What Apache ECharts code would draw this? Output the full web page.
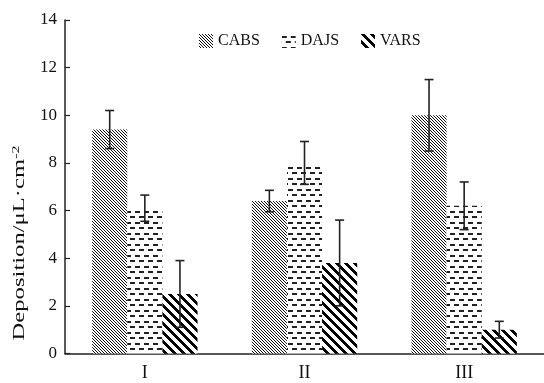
<!DOCTYPE html>
<html>
<head>
<meta charset="utf-8">
<script src="https://cdn.jsdelivr.net/npm/echarts@6/dist/echarts.min.js"></script>
<style>
    html, body { margin: 0; padding: 0; background: #fff; }
    #barChart { width: 544px; height: 383px; }
</style>
</head>
<body>
<div id="barChart"></div>
<script>
var categories = ['I', 'II', 'III'];
var seriesNames = ['CABS', 'DAJS', 'VARS'];
var cabsData = [9.4, 6.4, 10.0];
var dajsData = [6.1, 8.0, 6.2];
var varsData = [2.5, 3.8, 1.0];
var cabsErr = [0.8, 0.45, 1.5];
var dajsErr = [0.55, 0.9, 1.0];
var varsErr = [1.4, 1.8, 0.35];

var fontName = '"Liberation Serif", "DejaVu Serif", serif';

// 画填充图案
function makePattern(w, h, fill) {
    var c = document.createElement('canvas');
    c.width = w;
    c.height = h;
    var ctx = c.getContext('2d');
    ctx.fillStyle = '#fff';
    ctx.fillRect(0, 0, w, h);
    fill(ctx);
    return { image: c, repeat: 'repeat' };
}

var cabsPattern = makePattern(3, 3, function (ctx) {
    ctx.fillStyle = '#111';
    for (var i = 0; i < 3; i++) {
        ctx.fillRect(i, i, 1, 1);
    }
});

var dajsPattern = makePattern(9, 11, function (ctx) {
    ctx.fillStyle = '#222';
    ctx.fillRect(0, 2, 5, 2);
    ctx.fillRect(4, 7, 5, 2);
});

var varsPattern = makePattern(9, 9, function (ctx) {
    ctx.fillStyle = '#000';
    for (var y = 0; y < 9; y++) {
        for (var x = 0; x < 9; x++) {
            var d = ((x - y) % 9 + 9) % 9;
            if (d < 4) ctx.fillRect(x, y, 1, 1);
        }
    }
});

// 误差棒数据 [类别, 系列序号, 下限, 上限]
var errData = [];
[[cabsData, cabsErr], [dajsData, dajsErr], [varsData, varsErr]].forEach(function (pair, k) {
    pair[0].forEach(function (v, i) {
        errData.push([i, k, v - pair[1][i], v + pair[1][i]]);
    });
});

var barChart = echarts.init(document.getElementById('barChart'));
var option = {
    animation: false,
    legend: {
        data: seriesNames,
        left: 194,
        top: 28,
        itemWidth: 14,
        itemHeight: 14,
        itemGap: 22,
        icon: 'rect',
        textStyle: {
            fontFamily: fontName,
            fontSize: 16,
            color: '#111'
        }
    },
    // y轴名称，拉长一点
    graphic: [
        {
            type: 'text',
            x: 20,
            y: 243,
            rotation: Math.PI / 2,
            scaleX: 1.45,
            style: {
                text: '{a|Deposition/μL·cm}{b|-2}',
                align: 'center',
                verticalAlign: 'middle',
                rich: {
                    a: { fontFamily: fontName, fontSize: 17, fill: '#111' },
                    b: { fontFamily: fontName, fontSize: 11, fill: '#111', padding: [0, 0, 8, 0] }
                }
            }
        }
    ],
    grid: {
        left: 65,
        right: 0,
        top: 20,
        bottom: 29.5
    },
    xAxis: {
        type: 'category',
        data: categories,
        axisLine: {
            lineStyle: { color: '#222', width: 1.5 }
        },
        axisTick: {
            inside: true,
            length: 6,
            lineStyle: { color: '#222', width: 1.2 }
        },
        axisLabel: {
            margin: 11,
            fontFamily: fontName,
            fontSize: 18,
            color: '#111'
        }
    },
    yAxis: {
        type: 'value',
        min: 0,
        max: 14,
        interval: 2,
        axisLine: {
            show: true,
            lineStyle: { color: '#222', width: 1.5 }
        },
        axisTick: {
            show: true,
            inside: true,
            length: 5,
            lineStyle: { color: '#222', width: 1.2 }
        },
        splitLine: { show: false },
        axisLabel: {
            margin: 8,
            fontFamily: fontName,
            fontSize: 17,
            color: '#111'
        }
    },
    series: [
        {
            name: 'CABS',
            type: 'bar',
            barGap: '0%',
            barCategoryGap: '34%',
            itemStyle: { color: cabsPattern },
            data: cabsData
        },
        {
            name: 'DAJS',
            type: 'bar',
            itemStyle: { color: dajsPattern },
            data: dajsData
        },
        {
            name: 'VARS',
            type: 'bar',
            itemStyle: { color: varsPattern },
            data: varsData
        },
        {
            type: 'custom',
            name: 'err',
            z: 10,
            data: errData,
            encode: { x: 0, y: [2, 3] },
            renderItem: function (params, api) {
                var cat = api.value(0);
                var k = api.value(1);
                var band = api.size([1, 0])[0];
                var barW = band * 0.66 / 3;
                var x = api.coord([cat, 0])[0] + (k - 1) * barW;
                var lo = api.coord([cat, api.value(2)])[1];
                var hi = api.coord([cat, api.value(3)])[1];
                var cap = 4.5;
                var style = { stroke: '#222', lineWidth: 1.6 };
                return {
                    type: 'group',
                    children: [
                        { type: 'line', shape: { x1: x, y1: lo, x2: x, y2: hi }, style: style },
                        { type: 'line', shape: { x1: x - cap, y1: hi, x2: x + cap, y2: hi }, style: style },
                        { type: 'line', shape: { x1: x - cap, y1: lo, x2: x + cap, y2: lo }, style: style }
                    ]
                };
            }
        }
    ]
};
barChart.setOption(option);
</script>
</body>
</html>
